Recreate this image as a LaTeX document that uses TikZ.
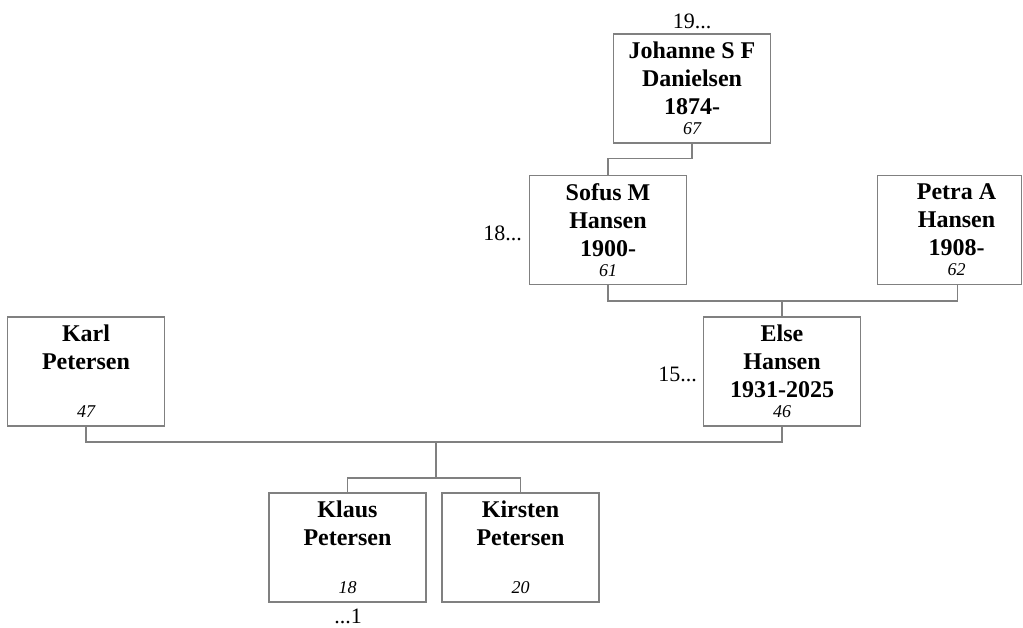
\documentclass[tikz,border=0pt]{standalone}
\usepackage{fontspec}
\setmainfont{Liberation Serif}
\usepackage{pgf,tikz}
\usetikzlibrary{positioning}
\definecolor{boxline}{RGB}{128,128,128}
\newcommand{\yr}[1]{{\fontsize{18}{20}\selectfont\mdseries\itshape #1}}

\begin{document}
\begin{tikzpicture}[x=1pt,y=-1pt]
			\tikzstyle{person}=[draw=boxline, line width=1.2pt, minimum width=157pt, minimum height=109pt, inner sep=0pt, align=center, font=\fontsize{24}{28}\selectfont\bfseries]
			\tikzstyle{line}=[draw=boxline, line width=1.2pt]
			\tikzstyle{gen}=[inner sep=0pt, font=\fontsize{22}{24}\selectfont]
			\useasboundingbox (0,0) rectangle (1023,627);
			% boxes
			\node [person] (johanne) at (692,88.5) {Johanne S F\\Danielsen\\1874-\\[-8pt]\yr{67}};
			\node [person] (sofus) at (608,230) {Sofus M\\Hansen\\1900-\\[-8pt]\yr{61}};
			\node [person, minimum width=144pt] (petra) at (949.5,230) {\hspace*{14pt}Petra A\\\hspace*{14pt}Hansen\\\hspace*{14pt}1908-\\[-8pt]\hspace*{14pt}\yr{62}};
			\node [person] (elseh) at (782,371.5) {Else\\Hansen\\1931-2025\\[-8pt]\yr{46}};
			\node [person] (karl) at (86,371.5) {Karl\\Petersen\\\\[-8pt]\yr{47}};
			\node [person] (klaus) at (347.5,547.5) {Klaus\\Petersen\\\\[-8pt]\yr{18}};
			\node [person] (kirsten) at (520.5,547.5) {Kirsten\\Petersen\\\\[-8pt]\yr{20}};
			% generation marks
			\node [gen, anchor=base] (g19) at (692,28) {19...};
			\node [gen, anchor=base east] (g18) at (522,240) {18...};
			\node [gen, anchor=base east] (g15) at (697,381) {15...};
			\node [gen, anchor=base] (g1) at (348,623) {...1};
			% lines
			\coordinate (sp) at (782,301);
			\coordinate (kp) at (436,442);
			\coordinate (kids) at (436,478);
			\draw [line] (johanne.south) -- ++(0,15) -| (sofus.north);
			\draw [line] (sofus.south) |- (sp) -| ([xshift=-65pt]petra.south east);
			\draw [line] (sp) -- (elseh.north);
			\draw [line] (karl.south) |- (kp) -| (elseh.south);
			\draw [line] (kp) -- (kids);
			\draw [line] (klaus.north) |- (kids) -| (kirsten.north);
\end{tikzpicture}
\end{document}
